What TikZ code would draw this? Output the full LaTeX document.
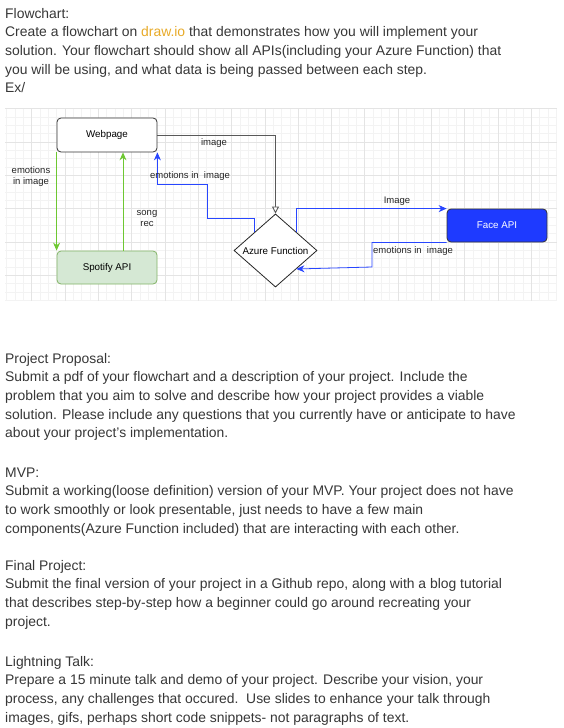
\documentclass[tikz,border=0pt]{standalone}
\usepackage{fontspec}
\setmainfont{Liberation Sans}
\usetikzlibrary{arrows.meta,shapes.geometric,calc}
\definecolor{txt}{RGB}{55,55,55}
\definecolor{linkc}{RGB}{232,170,40}
\definecolor{gridmaj}{RGB}{228,228,228}
\definecolor{gridmin}{RGB}{243,243,243}
\definecolor{gline}{RGB}{110,200,50}
\definecolor{bline}{RGB}{40,70,255}
\definecolor{facefill}{RGB}{30,58,255}
\definecolor{spotfill}{RGB}{213,232,212}
\definecolor{spotdraw}{RGB}{130,179,102}
\begin{document}
\begin{tikzpicture}[x=1pt,y=-1pt,
  body/.style={anchor=base west, inner sep=0, text=txt, font=\fontsize{13.9}{18.7}\selectfont},
  lab/.style={font=\fontsize{9.5}{11}\selectfont, inner sep=0, align=center, text=black!85},
  boxtxt/.style={font=\fontsize{9.8}{11}\selectfont},
  webbox/.style={boxtxt, draw=black!80, fill=white, rounded corners=4pt, minimum width=100pt, minimum height=34pt, line width=0.8pt, inner sep=0},
  spotbox/.style={boxtxt, draw=spotdraw, fill=spotfill, rounded corners=4pt, minimum width=100pt, minimum height=33pt, line width=0.8pt, inner sep=0},
  facebox/.style={boxtxt, draw=black!80, fill=facefill, text=white, rounded corners=4pt, minimum width=100pt, minimum height=33pt, line width=0.8pt, inner sep=0},
  azdia/.style={boxtxt, shape=diamond, draw=black!85, fill=white, minimum width=83pt, minimum height=66pt, inner sep=0, line width=0.8pt},
  garrow/.style={draw=gline, line width=0.9pt, -{Stealth[length=8pt,width=7pt]}},
  barrow/.style={draw=bline, line width=0.8pt, -{Stealth[length=8pt,width=7pt]}},
  karrow/.style={draw=black!65, line width=0.9pt, -{Triangle[open,length=7pt,width=7pt,fill=white]}}
]
\useasboundingbox (0,0) rectangle (563,728);
\fill[white] (0,0) rectangle (563,728);

% grid
\begin{scope}
\clip (5,108) rectangle (557,301);
\foreach \i in {-3,...,64} \draw[gridmin, line width=0.5pt] ({31.7+8.325*\i},108) -- ++(0,193);
\foreach \j in {0,...,24} \draw[gridmin, line width=0.5pt] (5,{108.7+8.325*\j}) -- ++(552,0);
\foreach \i in {-1,...,16} \draw[gridmaj, line width=0.6pt] ({31.7+33.3*\i},108) -- ++(0,193);
\foreach \j in {0,...,6} \draw[gridmaj, line width=0.6pt] (5,{108.7+33.3*\j}) -- ++(552,0);
\end{scope}

% nodes
\node[webbox] (web) at (107,135) {Webpage};
\node[spotbox] (spot) at (107,267.5) {Spotify API};
\node[azdia] (az) at (275.5,250.5) {Azure Function};
\node[facebox] (face) at (497,225.5) {Face API};

% coordinates
\coordinate (b1) at (207,218);
\coordinate (b2) at (207,184);
\coordinate (c3) at (372,267);

% connectors
\draw[garrow] (web.south west) -- (spot.north west);
\draw[garrow] ([xshift=16pt]spot.north) -- ([xshift=16pt]web.south);
\draw[karrow] (web.east) -| (az.north);
\draw[barrow] (az.north west) |- (b1) -- (b2) -| (web.south east);
\draw[barrow] (az.north east) |- (face.north west);
\draw[barrow] (face.south west) -| (c3) -- (az.south east);

% labels
\node[lab] (l1) at (31,176.5) {emotions\\in image};
\node[lab] (l2) at (147,218.5) {song\\rec};
\node[lab] (l3) at (214,143) {image};
\node[lab] (l4) at (190,176) {emotions in\ \ image};
\node[lab] (l5) at (397,201) {Image};
\node[lab] (l6) at (413,251) {emotions in\ \ image};

% text
\node[body] (t1) at (5,18) {Flowchart:};
\node[body] (t2) at (5,36.7) {Create a flowchart on \textcolor{linkc}{draw.io} that demonstrates how you will implement your};
\node[body] (t3) at (5,55.4) {solution. Your flowchart should show all APIs(including your Azure Function) that};
\node[body] (t4) at (5,74.1) {you will be using, and what data is being passed between each step.};
\node[body] (t5) at (5,92.8) {Ex/};

\node[body] (p1) at (5,363) {Project Proposal:};
\node[body] (p2) at (5,381.7) {Submit a pdf of your flowchart and a description of your project. Include the};
\node[body] (p3) at (5,400.4) {problem that you aim to solve and describe how your project provides a viable};
\node[body] (p4) at (5,419.1) {solution. Please include any questions that you currently have or anticipate to have};
\node[body] (p5) at (5,437.8) {about your project's implementation.};

\node[body] (m1) at (5,477) {MVP:};
\node[body] (m2) at (5,495.7) {Submit a working(loose definition) version of your MVP. Your project does not have};
\node[body] (m3) at (5,514.4) {to work smoothly or look presentable, just needs to have a few main};
\node[body] (m4) at (5,533.1) {components(Azure Function included) that are interacting with each other.};

\node[body] (f1) at (5,570) {Final Project:};
\node[body] (f2) at (5,588.7) {Submit the final version of your project in a Github repo, along with a blog tutorial};
\node[body] (f3) at (5,607.4) {that describes step-by-step how a beginner could go around recreating your};
\node[body] (f4) at (5,626.1) {project.};

\node[body] (g1) at (5,666) {Lightning Talk:};
\node[body] (g2) at (5,684.7) {Prepare a 15 minute talk and demo of your project. Describe your vision, your};
\node[body] (g3) at (5,703.4) {process, any challenges that occured.\ \ Use slides to enhance your talk through};
\node[body] (g4) at (5,722.1) {images, gifs, perhaps short code snippets- not paragraphs of text.};
\end{tikzpicture}
\end{document}
